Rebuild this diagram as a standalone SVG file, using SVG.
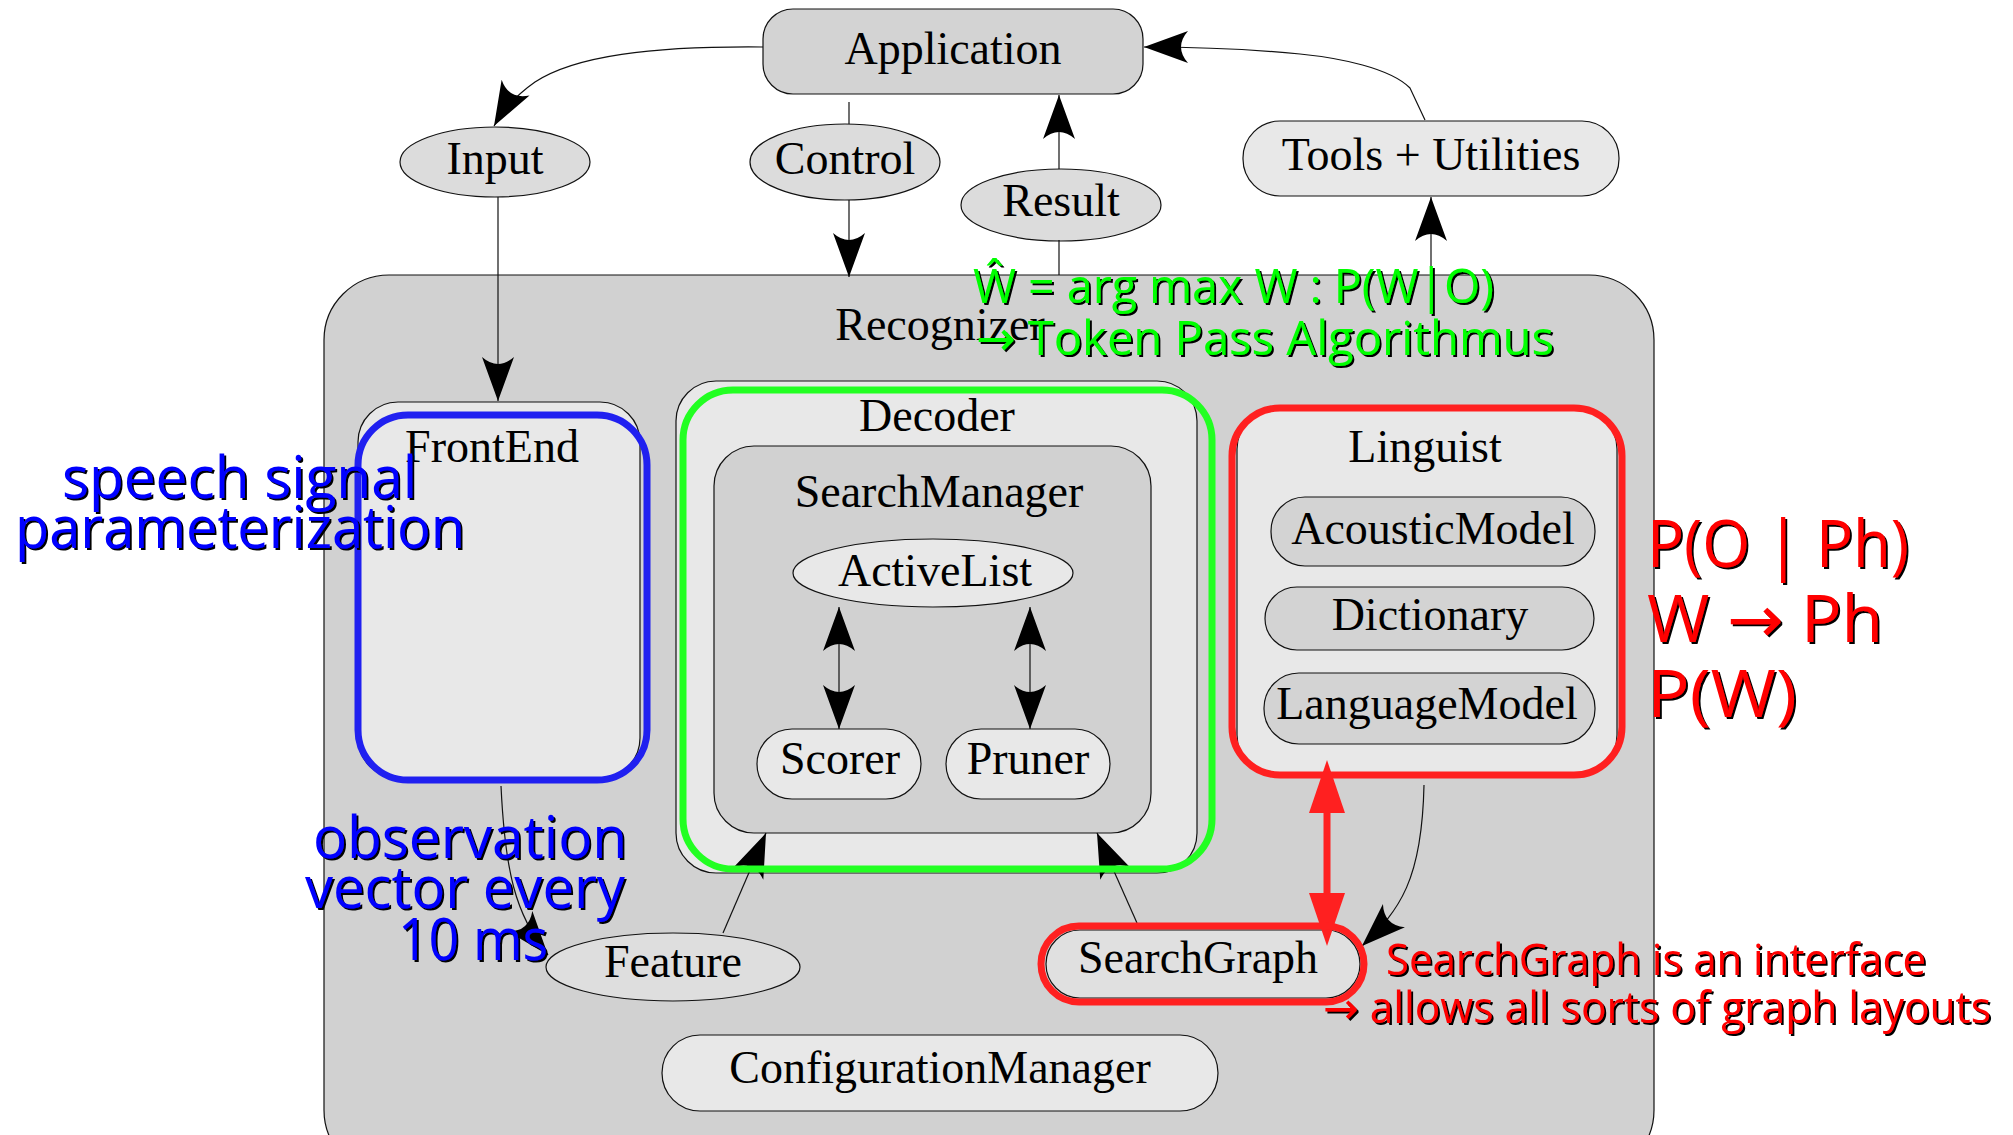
<svg xmlns="http://www.w3.org/2000/svg" width="2013" height="1135" viewBox="0 0 2013 1135">
<style>
.n{stroke:#111;stroke-width:1.2}
.lbl{font-family:"Liberation Serif","Times New Roman",serif;font-size:46px;fill:#000;text-anchor:middle}
.c{fill:none;stroke:#111;stroke-width:1.2}
.ann{font-family:"Open Sans","DejaVu Sans",sans-serif;filter:url(#sh)}
.hl{fill:none;stroke-width:7}
</style>
<defs>
<filter id="sh" x="-5%" y="-20%" width="110%" height="140%">
<feDropShadow dx="2" dy="2" stdDeviation="0.4" flood-color="#000" flood-opacity="1"/>
</filter>
<marker id="ah" viewBox="-46 -18 48 36" refX="0" refY="0" markerWidth="48" markerHeight="36" orient="auto-start-reverse" markerUnits="userSpaceOnUse">
<path d="M0,0 L-44,-16 Q-30,0 -44,16 Z" fill="#000"/>
</marker>
<marker id="rah" viewBox="-56 -20 78 40" refX="-20" refY="0" markerWidth="78" markerHeight="40" orient="auto-start-reverse" markerUnits="userSpaceOnUse">
<path d="M20,0 L-33,-18 L-33,18 Z" fill="#ff2020"/>
</marker>
</defs>
<rect width="2013" height="1135" fill="#fff"/>

<g id="recognizer">
<rect class="n" x="324" y="275" width="1330" height="900" rx="65" fill="#d1d1d1"/>
<text class="lbl" x="940" y="340">Recognizer</text>
</g>

<g id="application">
<rect class="n" x="763" y="9" width="380" height="85" rx="30" fill="#d3d3d3"/>
<text class="lbl" x="953" y="64">Application</text>
</g>
<g id="input">
<ellipse class="n" cx="495" cy="162" rx="95" ry="35" fill="#dcdcdc"/>
<text class="lbl" x="495" y="174">Input</text>
</g>
<g id="control">
<ellipse class="n" cx="845" cy="162" rx="95" ry="38" fill="#dcdcdc"/>
<text class="lbl" x="845" y="174">Control</text>
</g>
<g id="result">
<ellipse class="n" cx="1061" cy="205" rx="100" ry="36" fill="#dcdcdc"/>
<text class="lbl" x="1061" y="216">Result</text>
</g>
<g id="tools">
<rect class="n" x="1243" y="121" width="376" height="75" rx="37" fill="#e8e8e8"/>
<text class="lbl" x="1431" y="170">Tools + Utilities</text>
</g>

<g id="frontend">
<rect class="n" x="358" y="402" width="282" height="376" rx="40" fill="#e8e8e8"/>
<text class="lbl" x="492" y="462">FrontEnd</text>
</g>
<g id="decoder">
<rect class="n" x="676" y="381" width="521" height="492" rx="40" fill="#e8e8e8"/>
<text class="lbl" x="937" y="431">Decoder</text>
</g>
<g id="searchmanager">
<rect class="n" x="714" y="446" width="437" height="387" rx="40" fill="#d1d1d1"/>
<text class="lbl" x="939" y="507">SearchManager</text>
</g>
<g id="activelist">
<ellipse class="n" cx="933" cy="573" rx="140" ry="34" fill="#e8e8e8"/>
<text class="lbl" x="935" y="586">ActiveList</text>
</g>
<g id="scorer">
<rect class="n" x="757" y="729" width="164" height="70" rx="35" fill="#e8e8e8"/>
<text class="lbl" x="840" y="774">Scorer</text>
</g>
<g id="pruner">
<rect class="n" x="946" y="729" width="164" height="70" rx="35" fill="#e8e8e8"/>
<text class="lbl" x="1028" y="774">Pruner</text>
</g>
<g id="linguist">
<rect class="n" x="1237" y="409" width="380" height="366" rx="40" fill="#e8e8e8"/>
<text class="lbl" x="1425" y="462">Linguist</text>
</g>
<g id="acousticmodel">
<rect class="n" x="1271" y="497" width="324" height="69" rx="34" fill="#d3d3d3"/>
<text class="lbl" x="1433" y="544">AcousticModel</text>
</g>
<g id="dictionary">
<rect class="n" x="1265" y="587" width="329" height="63" rx="32" fill="#d3d3d3"/>
<text class="lbl" x="1430" y="630">Dictionary</text>
</g>
<g id="languagemodel">
<rect class="n" x="1264" y="673" width="331" height="71" rx="35" fill="#d3d3d3"/>
<text class="lbl" x="1427" y="719">LanguageModel</text>
</g>
<g id="feature">
<ellipse class="n" cx="673" cy="967" rx="127" ry="34" fill="#dedede"/>
<text class="lbl" x="673" y="977">Feature</text>
</g>
<g id="searchgraph">
<rect class="n" x="1046" y="930" width="314" height="68" rx="34" fill="#e0e0e0"/>
<text class="lbl" x="1198" y="973">SearchGraph</text>
</g>
<g id="configurationmanager">
<rect class="n" x="662" y="1035" width="556" height="76" rx="38" fill="#e8e8e8"/>
<text class="lbl" x="940" y="1083">ConfigurationManager</text>
</g>

<g id="connectors">
<path class="c" d="M763,47 C650,46 575,56 535,82 C515,96 503,110 494,126" marker-end="url(#ah)"/>
<path class="c" d="M849,102 L849,124"/>
<path class="c" d="M849,200 L849,277" marker-end="url(#ah)"/>
<path class="c" d="M1059,169 L1059,95" marker-end="url(#ah)"/>
<path class="c" d="M1059,240 L1059,275"/>
<path class="c" d="M1425,120 L1410,88 C1390,68 1340,58 1300,54 C1250,49 1200,47 1144,47" marker-end="url(#ah)"/>
<path class="c" d="M1431,275 L1431,197" marker-end="url(#ah)"/>
<path class="c" d="M498,197 L498,401" marker-end="url(#ah)"/>
<path class="c" d="M839,607 L839,729" marker-start="url(#ah)" marker-end="url(#ah)"/>
<path class="c" d="M1030,607 L1030,729" marker-start="url(#ah)" marker-end="url(#ah)"/>
<path class="c" d="M723,933 L766,833" marker-end="url(#ah)"/>
<path class="c" d="M1137,923 L1097,833" marker-end="url(#ah)"/>
<path class="c" d="M501,786 C505,870 515,915 548,955" marker-end="url(#ah)"/>
<path class="c" d="M1424,785 C1422,880 1400,910 1362,946" marker-end="url(#ah)"/>
<path d="M1327,800 L1327,906" fill="none" stroke="#ff2020" stroke-width="7" marker-start="url(#rah)" marker-end="url(#rah)"/>
</g>

<g id="highlights">
<rect class="hl" x="358" y="415" width="289" height="365" rx="50" stroke="#2020f0"/>
<rect class="hl" x="683" y="390" width="529" height="479" rx="50" stroke="#22ff22"/>
<rect class="hl" x="1232" y="408" width="390" height="367" rx="48" stroke="#ff2020"/>
<rect class="hl" x="1041" y="926" width="323" height="76" rx="38" stroke="#ff2020"/>
</g>

<g id="annotations">
<text class="ann" fill="#00ff00" font-size="48" x="973" y="303" textLength="521" lengthAdjust="spacingAndGlyphs">Ŵ = arg max W : P(W|O)</text>
<text class="ann" fill="#00ff00" font-size="48" x="976" y="355" textLength="578" lengthAdjust="spacingAndGlyphs">→ Token Pass Algorithmus</text>
<text class="ann" fill="#0000ff" font-size="58" x="62" y="498" textLength="355" lengthAdjust="spacingAndGlyphs">speech signal</text>
<text class="ann" fill="#0000ff" font-size="58" x="15" y="548" textLength="450" lengthAdjust="spacingAndGlyphs">parameterization</text>
<text class="ann" fill="#0000ff" font-size="58" x="313" y="858" textLength="314" lengthAdjust="spacingAndGlyphs">observation</text>
<text class="ann" fill="#0000ff" font-size="58" x="305" y="908" textLength="320" lengthAdjust="spacingAndGlyphs">vector every</text>
<text class="ann" fill="#0000ff" font-size="58" x="398" y="960" textLength="150" lengthAdjust="spacingAndGlyphs">10 ms</text>
<text class="ann" fill="#ff0000" font-size="65" x="1647" y="567" textLength="262" lengthAdjust="spacingAndGlyphs">P(O | Ph)</text>
<text class="ann" fill="#ff0000" font-size="65" x="1647" y="642" textLength="236" lengthAdjust="spacingAndGlyphs">W → Ph</text>
<text class="ann" fill="#ff0000" font-size="65" x="1647" y="717" textLength="150" lengthAdjust="spacingAndGlyphs">P(W)</text>
<text class="ann" fill="#ff0000" font-size="43" x="1386" y="975" textLength="540" lengthAdjust="spacingAndGlyphs">SearchGraph is an interface</text>
<text class="ann" fill="#ff0000" font-size="43" x="1323" y="1023" textLength="668" lengthAdjust="spacingAndGlyphs">→ allows all sorts of graph layouts</text>
</g>
</svg>
